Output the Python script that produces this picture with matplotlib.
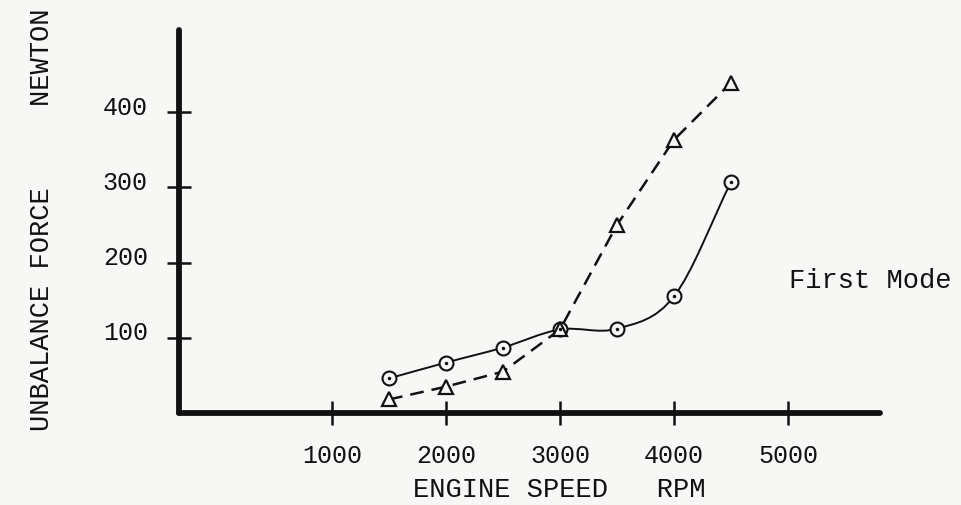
import matplotlib
matplotlib.use("Agg")
import matplotlib.pyplot as plt
from matplotlib.path import Path
from matplotlib.patches import PathPatch
from matplotlib.transforms import ScaledTranslation
import numpy as np

# engine speed (rpm) and unbalance force (N)
rpm = [1500, 2000, 2500, 3000, 3500, 4000, 4500]
force_circle = [46, 67, 87, 111, 112, 155, 307]
force_triangle = [18, 35, 55, 111, 250, 363, 439]

xticks = [1000, 2000, 3000, 4000, 5000]
yticks = [100, 200, 300, 400]

FONT = "Liberation Mono"
INK = "#111111"
PAPER = "#f7f7f5"


def smooth_path(xs, ys):
    # catmull-rom through the points, as cubic bezier segments
    pts = np.column_stack([xs, ys]).astype(float)
    ext = np.vstack([2 * pts[0] - pts[1], pts, 2 * pts[-1] - pts[-2]])
    verts = [tuple(pts[0])]
    codes = [Path.MOVETO]
    for i in range(1, len(ext) - 2):
        p0, p1, p2, p3 = ext[i - 1], ext[i], ext[i + 1], ext[i + 2]
        verts += [tuple(p1 + (p2 - p0) / 6), tuple(p2 - (p3 - p1) / 6), tuple(p2)]
        codes += [Path.CURVE4] * 3
    return Path(verts, codes)


fig = plt.figure(figsize=(9.61, 5.05), dpi=100, facecolor=PAPER)
ax = fig.add_axes([0.1863, 0.1822, 0.7294, 0.7584])
ax.set_facecolor(PAPER)

ax.add_patch(PathPatch(smooth_path(rpm, force_circle), fill=False,
                       edgecolor=INK, lw=1.4))
ax.plot(rpm, force_triangle, color=INK, lw=1.8, ls=(0, (5.5, 3.2)),
        dash_capstyle="butt")

ax.plot(rpm, force_circle, ls="none", marker="o", ms=10, mfc=PAPER,
        mec=INK, mew=1.5, zorder=3)
ax.plot(rpm, force_circle, ls="none", marker=".", ms=3, color=INK, zorder=4)
ax.plot(rpm, force_triangle, ls="none", marker="^", ms=9.5, mfc=PAPER,
        mec=INK, mew=1.6, zorder=3)

ax.set_xlim(-342, 5807)
ax.set_ylim(0, 509)

for side in ("top", "right"):
    ax.spines[side].set_visible(False)
for side in ("left", "bottom"):
    ax.spines[side].set_linewidth(4.2)
    ax.spines[side].set_color(INK)
    ax.spines[side].set_capstyle("round")

ax.set_xticks(xticks)
ax.set_xticklabels([str(v) for v in xticks])
ax.set_yticks(yticks)
ax.set_yticklabels([str(v) for v in yticks])
ax.tick_params(direction="inout", length=17, width=1.8, color=INK,
               labelsize=18, labelcolor=INK)
ax.tick_params(axis="x", pad=14)
ax.tick_params(axis="y", pad=14)
for lab in ax.get_xticklabels() + ax.get_yticklabels():
    lab.set_fontfamily(FONT)
for lab in ax.get_yticklabels():
    lab.set_transform(lab.get_transform() + ScaledTranslation(0, 0.07, fig.dpi_scale_trans))

fig.text(559 / 961, 1 - 490 / 505, "ENGINE SPEED   RPM", ha="center", va="center",
         fontsize=19.5, fontfamily=FONT, color=INK)
fig.text(42 / 961, 1 - 220 / 505, "UNBALANCE FORCE     NEWTON", ha="center",
         va="center", rotation=90, fontsize=19.5, fontfamily=FONT, color=INK)
fig.text(870 / 961, 1 - 281 / 505, "First Mode", ha="center", va="center",
         fontsize=19.5, fontfamily=FONT, color=INK)

fig.savefig("out.png", dpi=100, facecolor=PAPER)
